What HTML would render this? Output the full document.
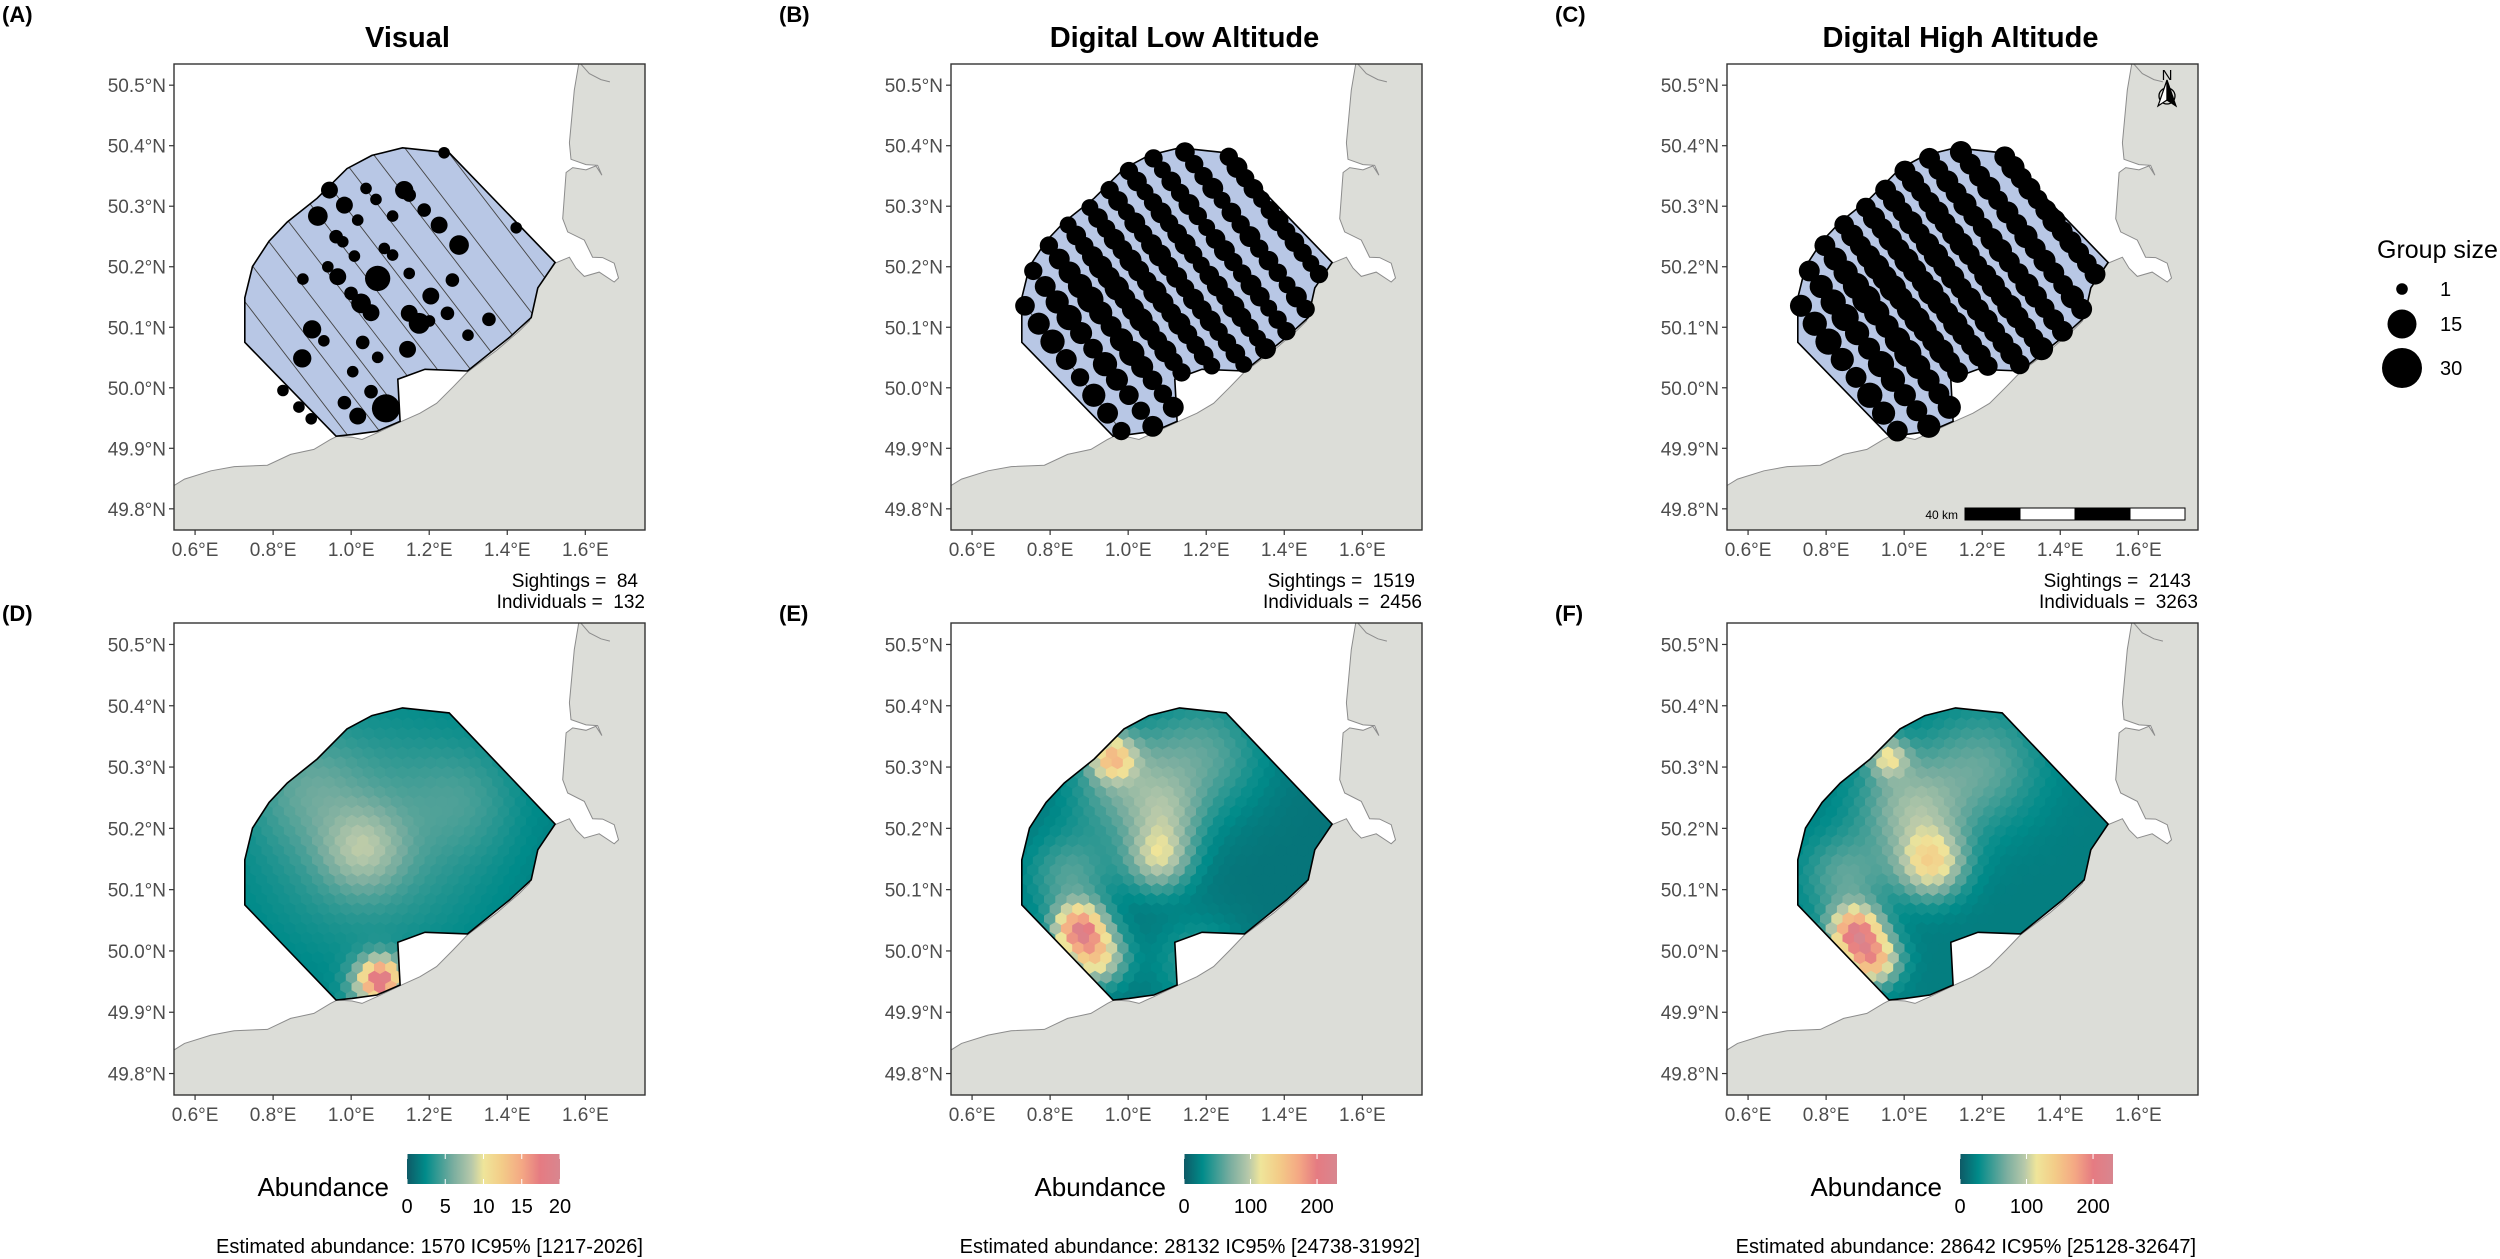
<!DOCTYPE html>
<html><head><meta charset="utf-8">
<style>
html,body{margin:0;padding:0;background:#fff;}
svg{display:block;font-family:"Liberation Sans",Arial,sans-serif;}
text{white-space:pre;}
</style></head>
<body>
<svg id="fig" width="2500" height="1259" viewBox="0 0 2500 1259" xmlns="http://www.w3.org/2000/svg">
<defs id="defs"></defs>
</svg>
<script>
// ---- data arrays ----
const panelLetters = ["(A)","(B)","(C)","(D)","(E)","(F)"];
const panelTitles = ["Visual","Digital Low Altitude","Digital High Altitude"];
const latTicks = [50.5,50.4,50.3,50.2,50.1,50.0,49.9,49.8];
const lonTicks = [0.6,0.8,1.0,1.2,1.4,1.6];
const sightings = [84,1519,2143];
const individuals = [132,2456,3263];
const estimates = ["Estimated abundance: 1570 IC95% [1217-2026]","Estimated abundance: 28132 IC95% [24738-31992]","Estimated abundance: 28642 IC95% [25128-32647]"];
const cbMax = [20,230,230];
const cbTicks = [[0,5,10,15,20],[0,100,200],[0,100,200]];
const legendSizes = [1,15,30];
// Visual sightings: lon, lat, group size
const visLon = [1.2382,1.4230,0.9444,0.9827,0.9146,1.0168,1.0381,1.0636,1.1360,1.1487,1.1062,1.1871,1.2254,1.2765,0.9614,0.9785,1.0083,1.0849,1.1062,0.8763,0.9402,0.9657,1.0679,1.1488,1.2594,0.9997,1.0253,1.0509,1.1488,1.1743,1.2041,1.2467,1.2006,1.3531,1.2994,0.8999,0.9300,1.0296,1.0679,1.1445,0.8746,1.0040,0.8252,0.8661,0.8976,0.9827,1.0168,1.0509,1.0892];
const visLat = [50.3883,50.2644,50.3266,50.3018,50.2837,50.2771,50.3294,50.3112,50.3266,50.3184,50.2837,50.2936,50.2688,50.2358,50.2496,50.2413,50.2176,50.2302,50.2193,50.1796,50.2000,50.1835,50.1807,50.1890,50.1780,50.1560,50.1395,50.1240,50.1230,50.1065,50.1516,50.1230,50.1104,50.1131,50.0869,50.0965,50.0776,50.0750,50.0503,50.0636,50.0486,50.0266,49.9955,49.9681,49.9488,49.9753,49.9532,49.9936,49.9660];
const visSize = [1,1,4,4,6,1,1,1,5,2,1,2,4,6,2,1,1,1,1,1,1,4,11,1,2,2,6,4,4,7,4,2,1,2,1,5,1,2,1,4,5,1,1,1,1,2,4,2,14];
// Transect intercept longitudes (at 50.4N)
const transectLon = [0.24,0.33,0.42,0.51,0.60,0.69,0.78,0.865,0.952,1.04,1.133,1.236,1.33,1.43];
const lowSizes = [
 [4,6],[5,7,6,4,5],[6,8,10,7,5,9,7,5],[5,7,9,11,8,6,10,8,6,5,7],
 [5,7,8,10,12,9,7,9,11,8,6,5,7],[4,6,5,7,9,8,10,7,8,9,7,6,8,5,5],
 [4,6,5,7,6,8,7,6,9,7,6,8,6,5,6,4],[5,6,4,7,5,7,8,6,7,5,7,6,7,5,5,6,4],
 [5,6,4,5,7,5,6,7,5,4,6,7,5,8,6,5,4,7],[5,4,6,5,7,5,4,6,7,5,5,7,6,4,5,5],
 [6,5,5,7,4,6,5,7,5,6,5,4,7,5],[5,7,5,6,4,5,7,5,6,5,4,5],[4,5,4,6,4,6,5,4,3],[3,4,4,5,3]];
const highSizes = [
 [6,8],[7,9,8,6,7],[8,10,12,9,7,11,9,7],[7,9,11,13,10,8,12,10,8,7,9],
 [7,9,10,12,14,11,9,11,13,10,8,7,9],[6,8,7,9,11,10,12,9,10,11,9,8,10,7,7],
 [6,8,7,9,8,10,9,8,11,9,8,10,8,7,8,6],[7,8,6,9,7,9,10,8,9,7,9,8,9,7,7,8,6],
 [7,8,6,7,9,7,8,9,7,6,8,9,7,10,8,7,6,9],[7,6,8,7,9,7,6,8,9,7,7,9,8,6,7,7],
 [8,7,7,9,6,8,7,9,7,8,7,6,9,7],[7,9,7,8,6,7,9,7,8,7,6,7],[6,7,6,8,6,8,7,6,5],[5,6,6,7,5]];
// Density hotspots: lon, lat, amplitude, spread(px)
const hsD_lon=[1.03,1.05,1.08,1.06,0.88,1.30], hsD_lat=[50.165,50.19,49.955,49.94,50.27,50.25], hsD_amp=[4,3,12,6,2,1.5], hsD_sp=[28,90,14,18,40,40];
const hsE_lon=[0.875,0.92,0.96,1.08,1.10,1.00,1.20,0.85,1.18], hsE_lat=[50.035,49.99,50.315,50.15,50.22,50.27,50.32,50.12,49.98], hsE_amp=[170,110,110,80,40,50,40,40,30], hsE_sp=[17,19,15,22,26,40,40,30,30];
const hsF_lon=[0.875,0.92,1.07,1.05,0.96,1.20,0.85,1.00], hsF_lat=[50.03,49.985,50.14,50.20,50.315,50.30,50.12,50.25], hsF_amp=[175,140,95,35,80,40,40,40], hsF_sp=[17,17,22,32,13,40,30,35];
const baseVal=[1.5,15,20];

// ---- geometry (basemap in reference-grid units) ----
const surveyZ=[[697,265],[838,280],[1157,613],[1105,690],[1085,780],[1020,840],[893,942],[765,937],[683,967],[690,1095],[620,1125],[545,1135],[497,1140],[222,855],[222,720],[245,625],[295,548],[350,490],[440,418],[530,328],[605,288]];
const landZ=[[-20,1295],[8,1290],[40,1270],[120,1245],[190,1232],[290,1228],[360,1195],[430,1180],[480,1150],[500,1140],[545,1143],[575,1150],[620,1130],[690,1097],[750,1070],[800,1040],[850,990],[893,945],[980,880],[1050,820],[1080,790],[1105,690],[1157,615],[1200,597],[1220,630],[1245,655],[1290,642],[1335,672],[1348,660],[1335,615],[1300,598],[1270,597],[1245,545],[1195,520],[1180,480],[1190,340],[1210,325],[1250,332],[1280,320],[1298,348],[1285,318],[1250,316],[1205,300],[1200,250],[1215,90],[1230,0],[1460,0],[1460,1460],[-20,1460]];
const inletZ=[[1232,8],[1260,40],[1295,58],[1322,65]];
function z2ll(p){return [0.6+(p[0]-72)/1176, 50.5-(p[1]-75)/1836];}
const surveyLL=surveyZ.map(z2ll), landLL=landZ.map(z2ll), inletLL=inletZ.map(z2ll);

const LON0=0.546,LON1=1.753,LAT0=49.765,LAT1=50.535;
const cols=[174,951,1727], W=471;
const rows=[{y:64,h:466},{y:623,h:472}];
const NS="http://www.w3.org/2000/svg";
const svg=document.getElementById('fig'), defs=document.getElementById('defs');
function mk(tag,attrs,parent){const e=document.createElementNS(NS,tag);for(const k in attrs)e.setAttribute(k,attrs[k]);(parent||svg).appendChild(e);return e;}
function X(fr,lon){return fr.x+(lon-LON0)/(LON1-LON0)*fr.w;}
function Y(fr,lat){return fr.y+(LAT1-lat)/(LAT1-LAT0)*fr.h;}
function ptsStr(fr,ll){return ll.map(p=>X(fr,p[0]).toFixed(1)+","+Y(fr,p[1]).toFixed(1)).join(" ");}
function inPoly(x,y,poly){let c=false;for(let i=0,j=poly.length-1;i<poly.length;j=i++){const xi=poly[i][0],yi=poly[i][1],xj=poly[j][0],yj=poly[j][1];if(((yi>y)!=(yj>y))&&(x<(xj-xi)*(y-yi)/(yj-yi)+xi))c=!c;}return c;}
function rSize(s){return Math.sqrt(21+12.63*s);}
const cmapStops=[[0,'#0e5a66'],[0.12,'#008b8a'],[0.3,'#78ad9f'],[0.42,'#b6c8aa'],[0.5,'#efe59a'],[0.62,'#f3cc88'],[0.75,'#f4a884'],[0.87,'#e57b82'],[1,'#d8868f']];
function hex2rgb(h){return [parseInt(h.substr(1,2),16),parseInt(h.substr(3,2),16),parseInt(h.substr(5,2),16)];}
function cmap(t){t=Math.max(0,Math.min(1,t));for(let i=1;i<cmapStops.length;i++){if(t<=cmapStops[i][0]){const a=cmapStops[i-1],b=cmapStops[i];const f=(t-a[0])/(b[0]-a[0]);const ca=hex2rgb(a[1]),cb=hex2rgb(b[1]);return 'rgb('+ca.map((v,k)=>Math.round(v+(cb[k]-v)*f)).join(',')+')';}}return cmapStops[cmapStops.length-1][1];}
function txt(s,attrs,parent){const e=mk('text',attrs,parent);e.textContent=s;return e;}

const hsLon=[hsD_lon,hsE_lon,hsF_lon],hsLat=[hsD_lat,hsE_lat,hsF_lat],hsAmp=[hsD_amp,hsE_amp,hsF_amp],hsSp=[hsD_sp,hsE_sp,hsF_sp];

for(let r=0;r<2;r++){for(let c=0;c<3;c++){
 const fr={x:cols[c],y:rows[r].y,w:W,h:rows[r].h};
 const id='p'+r+c;
 const g=mk('g',{});
 
 
 const cp=mk('clipPath',{id:'fc'+id},defs); mk('rect',{x:fr.x,y:fr.y,width:fr.w,height:fr.h},cp);
 const sp=mk('clipPath',{id:'sc'+id},defs); mk('polygon',{points:ptsStr(fr,surveyLL)},sp);
 const inner=mk('g',{'clip-path':'url(#fc'+id+')'},g);
 const land=mk('polygon',{points:ptsStr(fr,landLL),fill:'#dcddd8',stroke:'#8c8c8c','stroke-width':1},inner);
 
 
 mk('polyline',{points:ptsStr(fr,inletLL),fill:'none',stroke:'#8c8c8c','stroke-width':1},inner);
 const polyPx=surveyLL.map(p=>[X(fr,p[0]),Y(fr,p[1])]);
 const dirY=1.3*fr.h/466, nrm=Math.sqrt(1+dirY*dirY), dx=1/nrm, dy=dirY/nrm;
 if(r===0){
  const area=mk('polygon',{points:ptsStr(fr,surveyLL),fill:'#b8c7e5',stroke:'none'},inner);
  
  
  const lg=mk('g',{'clip-path':'url(#sc'+id+')'},inner);
  transectLon.forEach((L,ti)=>{const x0=X(fr,L),y0=Y(fr,50.4);
   const ln=mk('line',{x1:x0-700*dx,y1:y0-700*dy,x2:x0+700*dx,y2:y0+700*dy,stroke:'#444','stroke-width':0.9},lg);
   
   });
  mk('polygon',{points:ptsStr(fr,surveyLL),fill:'none',stroke:'#000','stroke-width':1.6},inner);
  if(c===0){
   visLon.forEach((lo,i)=>{const d=mk('circle',{cx:X(fr,lo),cy:Y(fr,visLat[i]),r:rSize(visSize[i]),fill:'#000'},inner);
    
    });
  } else {
   const sizes=c===1?lowSizes:highSizes;
   transectLon.forEach((L,ti)=>{const x0=X(fr,L),y0=Y(fr,50.4);let t0=null,t1=null;
    for(let t=-700;t<=700;t+=2){if(inPoly(x0+t*dx,y0+t*dy,polyPx)){if(t0===null)t0=t;t1=t;}}
    if(t0===null)return;const arr=sizes[ti];const n=arr.length;
    arr.forEach((s,k)=>{const t=n===1?(t0+t1)/2:t0+4+(t1-t0-8)*k/(n-1);
     const d=mk('circle',{cx:x0+t*dx,cy:y0+t*dy,r:rSize(s),fill:'#000'},inner);
     
     });});
  }
 } else {
  const hg=mk('g',{'clip-path':'url(#sc'+id+')'},inner);
  
  
  const hr=6.5, hw=hr*Math.sqrt(3);
  const xs=polyPx.map(p=>p[0]),ys=polyPx.map(p=>p[1]);
  const minX=Math.min(...xs)-hw,maxX=Math.max(...xs)+hw,minY=Math.min(...ys)-hr*2,maxY=Math.max(...ys)+hr*2;
  let row=0;
  for(let y=minY;y<=maxY;y+=hr*1.5,row++){
   for(let x=minX+(row%2?hw/2:0);x<=maxX;x+=hw){
    let v=baseVal[c];
    for(let k=0;k<hsLon[c].length;k++){const hx=X(fr,hsLon[c][k]),hy=Y(fr,hsLat[c][k]);const dd=(x-hx)*(x-hx)+(y-hy)*(y-hy);v+=hsAmp[c][k]*Math.exp(-dd/(2*hsSp[c][k]*hsSp[c][k]));}
    let p=[];for(let a=0;a<6;a++){const an=Math.PI/180*(60*a-30);p.push((x+(hr+0.4)*Math.cos(an)).toFixed(1)+','+(y+(hr+0.4)*Math.sin(an)).toFixed(1));}
    const h=mk('polygon',{points:p.join(' '),fill:cmap(v/cbMax[c])},hg);
    
    
   }}
  mk('polygon',{points:ptsStr(fr,surveyLL),fill:'none',stroke:'#000','stroke-width':1.6},inner);
 }
 const frame=mk('rect',{x:fr.x,y:fr.y,width:fr.w,height:fr.h,fill:'none',stroke:'#333','stroke-width':1.4},g);
 
 
 latTicks.forEach(la=>{const y=Y(fr,la);
  mk('line',{x1:fr.x-5,y1:y,x2:fr.x,y2:y,stroke:'#333','stroke-width':1.2},g);
  const t=txt(la.toFixed(1)+'°N',{x:fr.x-8,y:y+7,'font-size':19,fill:'#4d4d4d','text-anchor':'end'},g);
  
  });
 lonTicks.forEach(lo=>{const x=X(fr,lo);
  mk('line',{x1:x,y1:fr.y+fr.h,x2:x,y2:fr.y+fr.h+5,stroke:'#333','stroke-width':1.2},g);
  const t=txt(lo.toFixed(1)+'°E',{x:x,y:fr.y+fr.h+26,'font-size':19,fill:'#4d4d4d','text-anchor':'middle'},g);
  
  });
 const pl=txt(panelLetters[r*3+c],{x:fr.x-172,y:r===0?22:621,'font-size':22,'font-weight':'bold',fill:'#000'},g);
 
 
 if(r===0){
  const tt=txt(panelTitles[c],{x:fr.x+fr.w/2-2,y:47,'font-size':29,'font-weight':'bold',fill:'#000','text-anchor':'middle'},g);
  
  
  const s1=txt('Sightings =  '+sightings[c],{x:fr.x+fr.w-7,y:587,'font-size':19,fill:'#000','text-anchor':'end'},g);
  
  
  const s2=txt('Individuals =  '+individuals[c],{x:fr.x+fr.w,y:608,'font-size':19,fill:'#000','text-anchor':'end'},g);
  
  
 } else {
  const bx=fr.x+233, bw=153, by=1154, bh=30;
  const gid='cg'+c; const lgr=mk('linearGradient',{id:gid,x1:0,x2:1,y1:0,y2:0},defs);
  cmapStops.forEach(s=>mk('stop',{offset:s[0],'stop-color':s[1]},lgr));
  const bar=mk('rect',{x:bx,y:by,width:bw,height:bh,fill:'url(#'+gid+')'},g);
  
  
  const at=txt('Abundance',{x:fr.x+215,y:1196,'font-size':26,fill:'#000','text-anchor':'end'},g);
  
  
  cbTicks[c].forEach(v=>{const x=bx+v/cbMax[c]*bw;
   mk('line',{x1:x,y1:by,x2:x,y2:by+5,stroke:'#fff','stroke-width':1},g);
   mk('line',{x1:x,y1:by+bh-5,x2:x,y2:by+bh,stroke:'#fff','stroke-width':1},g);
   const t=txt(String(v),{x:x,y:1213,'font-size':20,fill:'#000','text-anchor':'middle'},g);
   
   });
  const et=txt(estimates[c],{x:fr.x+fr.w-2,y:1253,'font-size':20,fill:'#000','text-anchor':'end'},g);
  
  
 }
}}
const na=mk('g',{});


txt('N',{x:2167,y:80,'font-size':15,fill:'#000','text-anchor':'middle'},na);
mk('circle',{cx:2167,cy:96,r:8,fill:'none',stroke:'#000','stroke-width':1.3},na);
mk('polygon',{points:'2167,80 2158,106 2167,100',fill:'#fff',stroke:'#000','stroke-width':1.2},na);
mk('polygon',{points:'2167,80 2176,106 2167,100',fill:'#000',stroke:'#000','stroke-width':1.2},na);
const sb=mk('g',{});


for(let i=0;i<4;i++){mk('rect',{x:1965+i*55,y:508,width:55,height:12,fill:i%2?'#fff':'#000',stroke:'#000','stroke-width':1},sb);}
txt('40 km',{x:1958,y:519,'font-size':12,fill:'#000','text-anchor':'end'},sb);
const gl=mk('g',{});


txt('Group size',{x:2377,y:258,'font-size':25,fill:'#000'},gl);
const legY=[289,324,368];
legendSizes.forEach((s,i)=>{const d=mk('circle',{cx:2402,cy:legY[i],r:rSize(s),fill:'#000'},gl);
 
 
 txt(String(s),{x:2440,y:legY[i]+7,'font-size':20,fill:'#000'},gl);});
</script>
</body></html>
